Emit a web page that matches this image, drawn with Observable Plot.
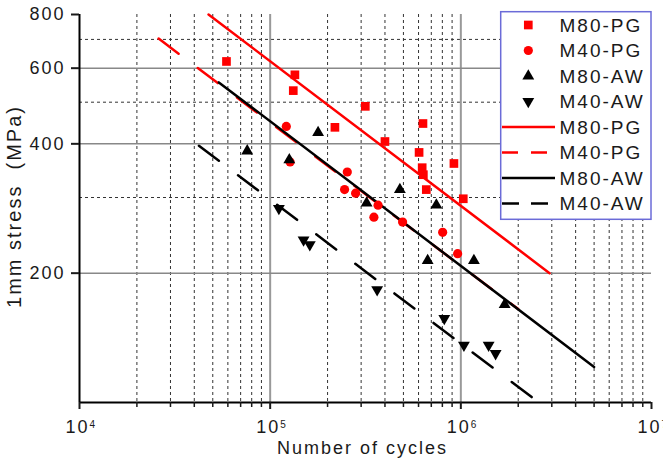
<!DOCTYPE html>
<html><head><meta charset="utf-8">
<script src="https://cdn.jsdelivr.net/npm/d3@7"></script>
<script src="https://cdn.jsdelivr.net/npm/@observablehq/plot@0.6"></script>
<style>
body{margin:0;background:#fff;}
</style></head><body><div id="chart"></div>
<script>
// ---- data ----
const m80pgN = [5.90e4, 1.348e5, 1.322e5, 2.186e5, 3.155e5, 4.0e5, 6.33e5, 6.04e5, 6.27e5, 6.36e5, 6.59e5, 9.2e5, 1.03e6];
const m80pgS = [622, 579, 532, 437, 489, 405, 446, 382, 352, 339, 313, 360, 298];
const m40pgN = [1.215e5, 1.272e5, 2.538e5, 2.456e5, 2.806e5, 3.68e5, 3.5e5, 4.95e5, 8.03e5, 9.62e5];
const m40pgS = [439, 363, 344, 313, 307, 288, 270, 263, 249, 222];
const m80awN = [7.58e4, 1.26e5, 1.784e5, 3.205e5, 4.79e5, 7.44e5, 6.7e5, 1.171e6, 1.697e6];
const m80awS = [385, 367, 425, 291, 313, 288, 214, 214, 169];
const m40awN = [1.111e5, 1.497e5, 1.614e5, 3.64e5, 8.19e5, 1.038e6, 1.399e6, 1.522e6];
const m40awS = [283, 239, 233, 183, 157, 136, 136, 130];

const fitM80PG_N = [4.75e4, 2.92e6], fitM80PG_S = [800, 200];
const fitM40PG_N = [2.6e4, 2.0e6],  fitM40PG_S = [703, 165];
const fitM80AW_N = [5.38e4, 5.0e6], fitM80AW_S = [556, 121];
const fitM40AW_N = [4.23e4, 2.44e6], fitM40AW_S = [396, 101.7];

const xDomain = [1e4, 1e7];
const yDomain = [100, 800];
const yTicks = [200, 400, 600, 800];
const yGridSolid = [200, 400, 600];
const yGridDotted = [300, 500, 700];
const xDecades = [1e4, 1e5, 1e6, 1e7];
const xGridSolid = [1e5, 1e6];
const minorMult = [2, 3, 4, 5, 6, 7, 8, 9];
const xMinor = [1e4, 1e5, 1e6].flatMap(d => minorMult.map(m => m * d));
const yLabel = "1mm stress  (MPa)";
const xLabel = "Number of cycles";
const legendLabels = ["M80-PG", "M40-PG", "M80-AW", "M40-AW", "M80-PG", "M40-PG", "M80-AW", "M40-AW"];

const pts = (N, S) => N.map((n, i) => ({n, s: S[i]}));

const RED = "#ff0000", BLACK = "#000000";
const rSq = 4.9, rCi = 4.6, rTri = 4.4;

const chart = Plot.plot({
  width: 663, height: 466,
  marginLeft: 79, marginRight: 12, marginTop: 14, marginBottom: 64,
  x: {type: "log", domain: xDomain},
  y: {type: "log", domain: yDomain},
  style: "font-family: 'Liberation Sans', Arial, sans-serif; font-size: 18px; letter-spacing: 2px; color: #1a1a1a; background: #fff;",
  marks: [
    Plot.ruleX(xMinor, {stroke: "#333", strokeWidth: 1, strokeDasharray: "3,3"}),
    Plot.ruleY(yGridDotted, {stroke: "#333", strokeWidth: 1, strokeDasharray: "3,3"}),
    Plot.ruleX(xGridSolid, {stroke: "#999", strokeWidth: 2}),
    Plot.ruleY(yGridSolid, {stroke: "#888", strokeWidth: 1.5}),
    Plot.line(pts(fitM40PG_N, fitM40PG_S), {x: "n", y: "s", stroke: RED, strokeWidth: 2.5, strokeDasharray: "25,24"}),
    Plot.line(pts(fitM80PG_N, fitM80PG_S), {x: "n", y: "s", stroke: RED, strokeWidth: 2.5}),
    Plot.line(pts(fitM80AW_N, fitM80AW_S), {x: "n", y: "s", stroke: BLACK, strokeWidth: 2.5}),
    Plot.line(pts(fitM40AW_N, fitM40AW_S), {x: "n", y: "s", stroke: BLACK, strokeWidth: 2.5, strokeDasharray: "25,24"}),
    Plot.dot(pts(m80pgN, m80pgS), {x: "n", y: "s", symbol: "square", r: rSq, fill: RED}),
    Plot.dot(pts(m40pgN, m40pgS), {x: "n", y: "s", symbol: "circle", r: rCi, fill: RED}),
    Plot.dot(pts(m80awN, m80awS), {x: "n", y: "s", symbol: "triangle", r: rTri, fill: BLACK}),
    Plot.dot(pts(m40awN, m40awS), {x: "n", y: "s", symbol: "triangle", r: rTri, fill: BLACK, rotate: 180}),
    Plot.ruleX([xDomain[0]], {stroke: BLACK, strokeWidth: 2}),
    Plot.ruleY([yDomain[0]], {stroke: BLACK, strokeWidth: 2}),
    Plot.axisY({ticks: yTicks, tickSize: 8, tickPadding: 6, tickFormat: d => String(d), strokeWidth: 2, label: null}),
    Plot.axisX({ticks: xDecades, tickSize: 7, tickFormat: () => "", strokeWidth: 2, label: null}),
    Plot.axisX({ticks: xMinor, tickSize: 5, tickFormat: () => "", strokeWidth: 1.5, label: null}),
    Plot.text(xDecades, {x: d => d, text: () => "10", frameAnchor: "bottom", dy: 30, dx: -2}),
    Plot.text(xDecades, {x: d => d, text: d => String(Math.round(Math.log10(d))), frameAnchor: "bottom", dy: 25, dx: 10, fontSize: 10, textAnchor: "start"}),
    Plot.text([yLabel], {text: d => d, frameAnchor: "left", textAnchor: "middle", dx: -65, dy: -2, rotate: -90, fontSize: 20}),
    Plot.text([xLabel], {text: d => d, frameAnchor: "bottom", textAnchor: "middle", dx: -3, dy: 51})
  ]
});
document.getElementById("chart").appendChild(chart);

// ---- legend ----
const svg = d3.select(chart);
const lg = svg.append("g");
const boxX = 500.7, boxY = 11.7, boxW = 150.3, boxH = 207.6;
lg.append("rect").attr("x", boxX).attr("y", boxY).attr("width", boxW).attr("height", boxH)
  .attr("fill", "#fff").attr("stroke", "#6b6bd8").attr("stroke-width", 1.5);
const rowY = i => 25 + 25.5 * i;
const symX = 528.3;
const symDefs = [
  {type: d3.symbolSquare, r: rSq, color: RED, rot: 0},
  {type: d3.symbolCircle, r: rCi, color: RED, rot: 0},
  {type: d3.symbolTriangle, r: rTri, color: BLACK, rot: 0},
  {type: d3.symbolTriangle, r: rTri, color: BLACK, rot: 180}
];
const lineDefs = [
  {color: RED, dash: null},
  {color: RED, dash: "16,13"},
  {color: BLACK, dash: null},
  {color: BLACK, dash: "17,12"}
];
legendLabels.forEach((lab, i) => {
  const y = rowY(i);
  if (i < 4) {
    const s = symDefs[i];
    lg.append("path")
      .attr("d", d3.symbol(s.type, Math.PI * s.r * s.r)())
      .attr("transform", `translate(${symX},${y}) rotate(${s.rot})`)
      .attr("fill", s.color);
  } else {
    const l = lineDefs[i - 4];
    const ln = lg.append("line").attr("x1", 502).attr("x2", 555).attr("y1", y).attr("y2", y)
      .attr("stroke", l.color).attr("stroke-width", 2.5);
    if (l.dash) ln.attr("stroke-dasharray", l.dash).attr("x2", 550);
  }
  lg.append("text").attr("x", 559.5).attr("y", y).attr("dy", "0.36em")
    .attr("text-anchor", "start").attr("font-size", 19).attr("fill", "#1a1a1a").text(lab);
});
</script></body></html>
